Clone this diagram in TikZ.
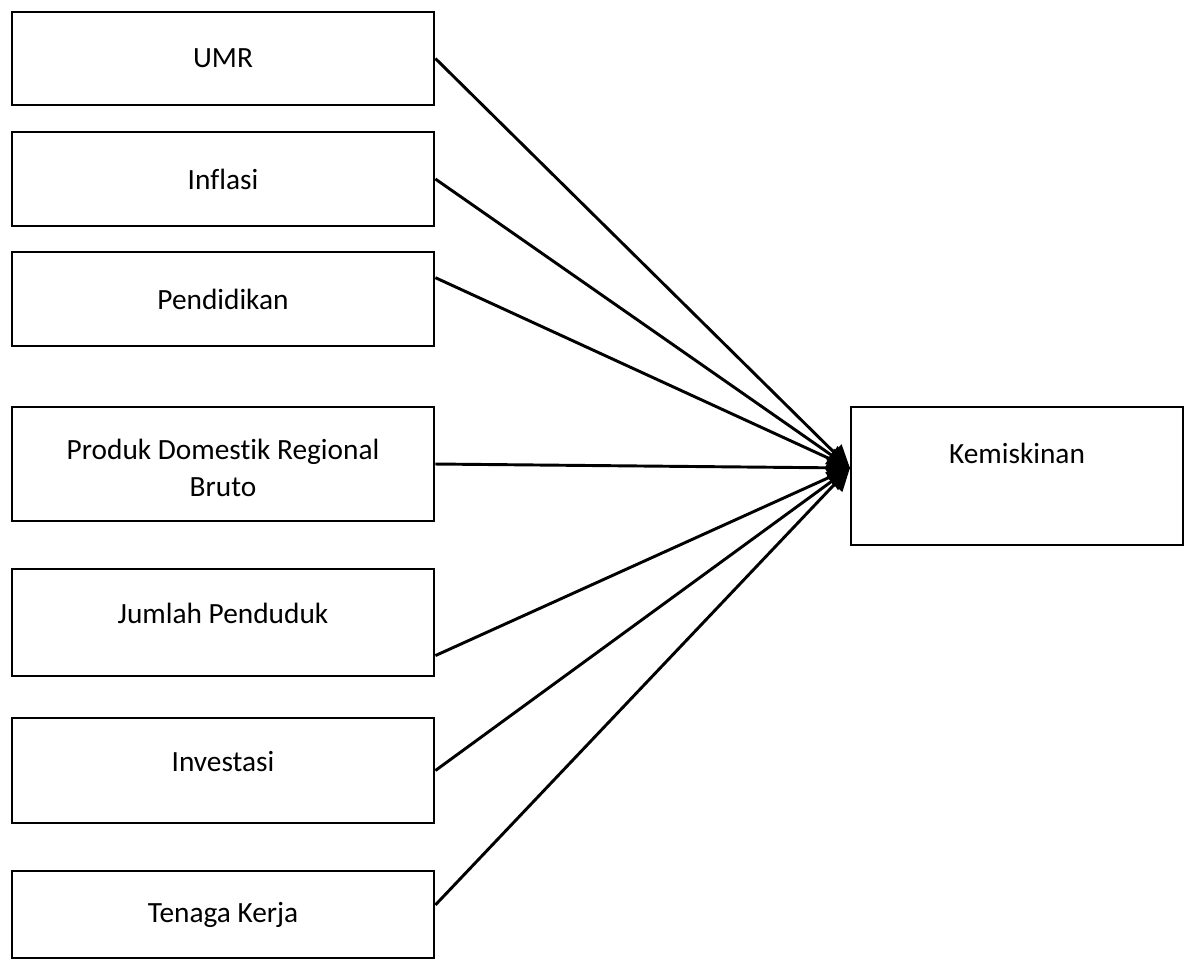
\documentclass[tikz,border=0pt]{standalone}
\usepackage{fontspec}
\setmainfont{Carlito}[Ligatures=CommonOff]
\usepackage{tikz}
\usetikzlibrary{
    calc,
    arrows.meta
}
\tikzset{
    var/.style={draw, line width=0.8pt, minimum width=158.5pt, inner sep=0pt,
        align=center, font=\fontsize{11pt}{13.9pt}\selectfont},
    link/.style={line width=1.1pt, -{Triangle[length=8.5pt,width=8pt]}}
}
\newcommand{\liftup}[2]{\raisebox{#1}[\height][\depth]{#2}}

\begin{document}
\begin{tikzpicture}[x=0.375pt,y=-0.375pt]
        \useasboundingbox (0,0) rectangle (1190,960);

        \draw (223,58.5) node[var,minimum height=34.9pt](umr){UMR};
        \draw (223,179)  node[var,minimum height=35.25pt](inf){Inflasi};
        \draw (223,299)  node[var,minimum height=35.25pt](pend){Pendidikan};
        \draw (223,464)  node[var,minimum height=42.75pt](pdrb){\liftup{-1.5pt}{Produk Domestik Regional}\\\liftup{-1.5pt}{Bruto}};
        \draw (223,622.5) node[var,minimum height=40.1pt](jml){\liftup{3.6pt}{Jumlah Penduduk}};
        \draw (223,770.5) node[var,minimum height=39.4pt](inv){\liftup{3.2pt}{Investasi}};
        \draw (223,914.5) node[var,minimum height=32.6pt](tk){Tenaga Kerja};

        \draw (1017,476) node[var,minimum width=124.5pt,minimum height=51.75pt](kem){\liftup{8.6pt}{Kemiskinan}};

        \draw[link] (umr.east) to ([yshift=3pt]kem.west);
        \draw[link] (inf.east) to ([yshift=3pt]kem.west);
        \draw[link] ([yshift=8pt]pend.east) to ([yshift=3pt]kem.west);
        \draw[link] (pdrb.east) to ([yshift=3pt]kem.west);
        \draw[link] ([yshift=-12.4pt]jml.east) to ([yshift=3pt]kem.west);
        \draw[link] (inv.east) to ([yshift=3pt]kem.west);
        \draw[link] ([yshift=3.6pt]tk.east) to ([yshift=3pt]kem.west);
    \end{tikzpicture}
\end{document}
